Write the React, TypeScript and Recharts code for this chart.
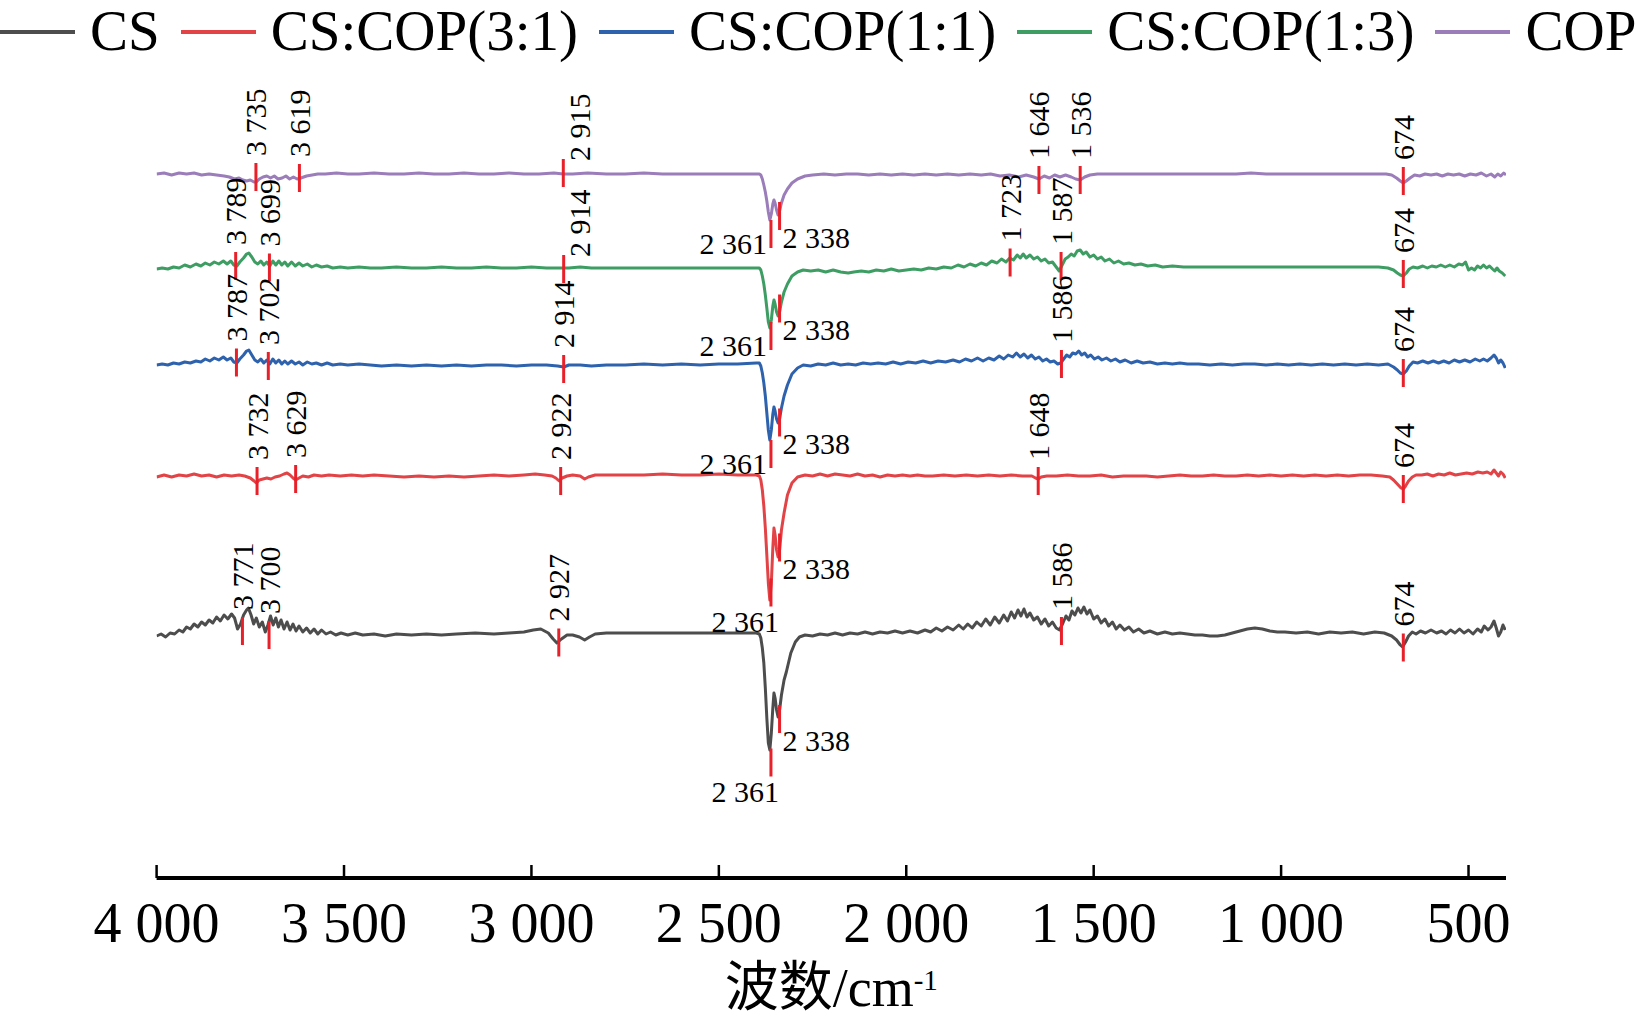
import React from 'react';
import { LineChart, Line, XAxis, YAxis, ReferenceDot } from 'recharts';

// FTIR spectra, stacked with an offset (transmittance, a.u.)
const seriesNames = ['CS', 'CS:COP(3:1)', 'CS:COP(1:1)', 'CS:COP(1:3)', 'COP'];
const seriesColors = ['#4d4d4d', '#e24346', '#2e62ad', '#3d9d63', '#9a7db9'];
const markColor = '#e8202a';
const wnTicks = [4000, 3500, 3000, 2500, 2000, 1500, 1000, 500];

const csSpectrum: [number, number][] = [
  [4000,24.2],[3988,24.4],[3976,24.1],[3964,24.5],[3952,24.4],[3940,24.8],[3930,24.6],[3920,25.1],[3910,24.9],[3900,25.4],[3890,25.1],[3880,25.6],[3870,25.3],[3860,25.8],[3850,25.5],[3840,26.1],[3830,25.7],[3820,26.3],[3810,25.9],[3800,26.4],[3792,26.0],[3784,24.9],[3776,25.4],[3768,26.3],[3760,26.8],[3755,27.0],[3748,26.3],[3741,25.4],[3734,26.0],[3726,25.1],[3718,25.6],[3710,24.6],[3703,25.3],[3696,26.2],[3689,25.3],[3682,26.0],[3675,25.1],[3668,25.8],[3660,24.9],[3652,25.6],[3644,24.8],[3636,25.4],[3628,24.7],[3620,25.2],[3610,24.6],[3600,25.0],[3590,24.5],[3580,24.9],[3570,24.4],[3560,24.8],[3548,24.4],[3536,24.6],[3522,24.3],[3508,24.5],[3490,24.3],[3470,24.5],[3450,24.3],[3420,24.4],[3390,24.2],[3360,24.4],[3320,24.3],[3280,24.4],[3240,24.3],[3200,24.4],[3150,24.5],[3100,24.4],[3060,24.5],[3020,24.6],[2995,24.8],[2975,24.9],[2955,24.5],[2942,23.9],[2932,23.5],[2920,23.9],[2905,24.3],[2890,24.3],[2872,24.1],[2858,23.8],[2845,24.1],[2830,24.4],[2800,24.5],[2750,24.5],[2700,24.5],[2650,24.5],[2600,24.5],[2550,24.5],[2500,24.5],[2450,24.5],[2400,24.5],
  [2392,24.4],[2388,24.0],[2384,23.0],[2380,21.5],[2376,19.0],[2372,16.0],[2368,13.5],[2364,12.8],[2360,14.5],[2356,17.0],[2353,18.5],[2350,18.0],[2346,16.8],[2342,16.1],[2338,16.8],[2333,18.3],[2326,19.8],[2320,20.6],[2308,22.5],[2296,23.6],[2285,24.1],[2270,24.3],
  [2250,24.2],[2230,24.4],[2210,24.3],[2190,24.5],[2170,24.3],[2150,24.5],[2130,24.4],[2110,24.6],[2090,24.4],[2070,24.6],[2050,24.5],[2030,24.7],[2010,24.5],[1990,24.7],[1970,24.5],[1950,24.8],[1935,24.6],[1920,25.0],[1905,24.7],[1890,25.1],[1875,24.8],[1860,25.3],[1848,24.9],[1836,25.4],[1824,25.0],[1812,25.6],[1800,25.2],[1788,25.9],[1776,25.3],[1764,26.1],[1752,25.5],[1740,26.3],[1730,25.7],[1720,26.6],[1711,26.0],[1702,26.8],[1694,26.2],[1686,26.9],[1678,26.1],[1670,26.5],[1660,25.8],[1650,26.1],[1640,25.4],[1630,25.9],[1620,25.2],[1610,25.6],[1600,25.0],[1591,24.8],[1582,25.5],[1574,26.2],[1566,25.8],[1558,26.7],[1550,26.3],[1542,27.0],[1534,26.5],[1526,27.1],[1518,26.4],[1510,26.8],[1500,25.9],[1490,26.2],[1480,25.5],[1470,25.9],[1460,25.2],[1450,25.6],[1440,24.9],[1430,25.3],[1418,24.8],[1406,25.1],[1394,24.6],[1380,24.9],[1366,24.5],[1350,24.7],[1330,24.4],[1310,24.6],[1290,24.4],[1270,24.5],[1250,24.4],[1230,24.3],[1210,24.3],[1190,24.2],[1170,24.2],[1150,24.3],[1130,24.5],[1110,24.7],[1090,24.9],[1070,25.0],[1050,24.9],[1030,24.7],[1010,24.6],[990,24.6],[960,24.5],[930,24.6],[900,24.4],[870,24.6],[840,24.5],[810,24.6],[780,24.4],[750,24.6],[725,24.5],[705,24.2],[692,23.8],[682,23.3],[676,23.1],[668,23.6],[660,24.2],[650,24.6],[640,24.4],[628,24.7],[615,24.5],[600,24.8],[585,24.5],[572,24.7],[560,24.4],[548,24.8],[536,24.5],[524,24.9],[512,24.5],[500,24.8],[488,24.4],[476,24.9],[466,24.6],[458,25.2],[448,24.8],[440,25.1],[432,25.7],[426,25.0],[420,24.2],[414,24.6],[408,25.3],[402,24.8],
];

const cop31Spectrum: [number, number][] = [
  [4000,40.1],[3980,40.3],[3960,40.1],[3940,40.3],[3920,40.2],[3900,40.4],[3880,40.2],[3860,40.3],[3840,40.1],[3820,40.3],[3800,40.2],[3780,40.3],[3765,40.2],[3750,40.0],[3740,39.7],[3734,39.5],[3726,39.8],[3716,39.9],[3706,40.0],[3695,39.9],[3684,40.1],[3672,40.2],[3660,40.4],[3652,40.5],[3644,40.3],[3636,40.0],[3629,39.8],[3620,40.0],[3610,40.2],[3595,40.1],[3580,40.3],[3560,40.2],[3540,40.3],[3510,40.2],[3480,40.3],[3450,40.2],[3420,40.3],[3380,40.2],[3340,40.1],[3300,40.2],[3260,40.1],[3220,40.2],[3180,40.1],[3140,40.2],[3100,40.3],[3060,40.2],[3020,40.3],[2990,40.4],[2965,40.3],[2945,40.2],[2935,40.0],[2926,39.7],[2918,40.0],[2905,40.2],[2890,40.3],[2870,40.2],[2858,39.9],[2848,40.1],[2830,40.3],[2800,40.3],[2750,40.3],[2700,40.3],[2650,40.4],[2600,40.3],[2550,40.3],[2500,40.4],[2450,40.3],[2400,40.3],
  [2392,40.2],[2388,39.8],[2384,38.8],[2380,37.2],[2376,35.0],[2372,32.3],[2368,29.5],[2364,27.8],[2360,29.5],[2356,33.0],[2353,35.0],[2350,34.3],[2346,32.8],[2342,32.1],[2338,32.8],[2333,34.8],[2326,36.5],[2317,38.3],[2305,39.5],[2290,40.1],[2270,40.3],
  [2250,40.2],[2230,40.4],[2210,40.2],[2190,40.4],[2170,40.3],[2150,40.2],[2130,40.4],[2110,40.2],[2090,40.3],[2070,40.1],[2050,40.3],[2030,40.2],[2010,40.3],[1990,40.2],[1970,40.3],[1950,40.2],[1930,40.2],[1900,40.3],[1870,40.2],[1840,40.3],[1810,40.2],[1780,40.3],[1750,40.2],[1720,40.3],[1690,40.2],[1665,40.2],[1655,40.0],[1648,39.9],[1640,40.1],[1625,40.2],[1600,40.2],[1570,40.3],[1540,40.2],[1510,40.2],[1480,40.3],[1450,40.1],[1420,40.2],[1390,40.2],[1360,40.2],[1330,40.1],[1300,40.2],[1270,40.3],[1240,40.2],[1210,40.2],[1180,40.3],[1150,40.2],[1120,40.2],[1090,40.3],[1060,40.2],[1030,40.3],[1000,40.2],[970,40.3],[940,40.2],[910,40.3],[880,40.2],[850,40.3],[820,40.2],[790,40.3],[760,40.3],[730,40.2],[710,40.1],[700,39.8],[690,39.4],[680,39.0],[674,38.9],[668,39.2],[660,39.7],[650,40.1],[640,40.3],[625,40.3],[610,40.4],[595,40.2],[580,40.4],[565,40.3],[550,40.5],[535,40.3],[520,40.4],[505,40.5],[490,40.4],[475,40.6],[462,40.5],[450,40.6],[440,40.4],[432,40.8],[426,40.5],[420,40.2],[414,40.6],[408,40.4],[402,40.0],
];

const cop11Spectrum: [number, number][] = [
  [4000,51.3],[3985,51.4],[3970,51.3],[3955,51.5],[3940,51.4],[3925,51.6],[3910,51.5],[3895,51.7],[3882,51.6],[3870,51.9],[3858,51.7],[3846,52.0],[3834,51.8],[3822,52.1],[3812,51.8],[3802,52.0],[3794,51.6],[3786,51.5],[3778,51.9],[3768,52.3],[3760,52.7],[3754,52.8],[3746,52.3],[3738,51.8],[3730,51.6],[3722,51.9],[3714,51.5],[3706,51.8],[3698,51.4],[3690,51.9],[3682,51.5],[3674,51.8],[3666,51.4],[3658,51.7],[3650,51.4],[3640,51.7],[3630,51.4],[3620,51.6],[3610,51.3],[3598,51.6],[3586,51.4],[3574,51.5],[3560,51.3],[3545,51.5],[3530,51.3],[3510,51.4],[3490,51.3],[3460,51.4],[3430,51.3],[3400,51.2],[3360,51.3],[3320,51.2],[3280,51.3],[3240,51.2],[3200,51.3],[3160,51.2],[3120,51.3],[3080,51.3],[3040,51.2],[3000,51.3],[2960,51.3],[2930,51.2],[2914,51.1],[2900,51.3],[2870,51.3],[2840,51.2],[2800,51.3],[2750,51.3],[2700,51.4],[2650,51.3],[2600,51.4],[2550,51.3],[2500,51.4],[2450,51.4],[2400,51.5],
  [2392,51.5],[2388,51.2],[2384,50.5],[2380,49.5],[2376,48.2],[2372,46.5],[2368,44.8],[2364,43.8],[2360,44.8],[2356,46.4],[2353,47.1],[2350,46.7],[2346,45.9],[2342,45.5],[2338,45.9],[2333,47.0],[2326,48.2],[2317,49.3],[2305,50.4],[2290,51.0],[2275,51.3],
  [2255,51.2],[2235,51.4],[2215,51.3],[2195,51.5],[2175,51.3],[2155,51.4],[2135,51.3],[2115,51.5],[2095,51.4],[2075,51.5],[2055,51.4],[2035,51.6],[2015,51.4],[1995,51.6],[1975,51.5],[1955,51.7],[1935,51.5],[1915,51.7],[1895,51.6],[1875,51.8],[1858,51.6],[1842,51.9],[1826,51.7],[1810,52.0],[1795,51.7],[1780,52.0],[1766,51.8],[1752,52.2],[1740,51.9],[1728,52.3],[1716,52.1],[1706,52.5],[1696,52.1],[1686,52.4],[1676,52.0],[1666,52.3],[1656,51.9],[1646,52.1],[1636,51.7],[1626,51.9],[1616,51.6],[1606,51.7],[1596,51.4],[1588,51.5],[1580,51.9],[1572,52.3],[1564,52.1],[1556,52.5],[1548,52.4],[1540,52.7],[1532,52.3],[1524,52.5],[1516,52.1],[1508,52.3],[1498,51.9],[1488,52.1],[1478,51.8],[1466,52.0],[1454,51.7],[1442,51.9],[1430,51.6],[1416,51.8],[1400,51.5],[1384,51.7],[1368,51.5],[1350,51.6],[1330,51.4],[1310,51.5],[1290,51.4],[1270,51.5],[1250,51.4],[1220,51.4],[1190,51.3],[1160,51.4],[1130,51.3],[1100,51.4],[1070,51.4],[1040,51.3],[1010,51.4],[980,51.3],[950,51.4],[920,51.3],[890,51.4],[860,51.3],[830,51.4],[800,51.3],[770,51.4],[740,51.3],[715,51.4],[700,51.1],[690,50.8],[682,50.5],[674,50.4],[666,50.7],[658,51.2],[648,51.6],[636,51.5],[622,51.7],[608,51.5],[594,51.7],[580,51.5],[566,51.7],[552,51.5],[538,51.8],[524,51.6],[510,51.8],[496,51.6],[482,51.9],[470,51.7],[460,51.9],[450,51.7],[440,52.0],[432,52.3],[426,52.0],[420,51.5],[414,51.8],[408,51.5],[402,51.0],
];

const cop13Spectrum: [number, number][] = [
  [4000,60.9],[3985,61.0],[3970,60.9],[3955,61.1],[3940,61.0],[3925,61.3],[3910,61.1],[3895,61.4],[3882,61.2],[3870,61.5],[3858,61.3],[3846,61.6],[3834,61.4],[3822,61.7],[3812,61.4],[3802,61.7],[3794,61.3],[3786,61.2],[3778,61.6],[3768,62.0],[3760,62.4],[3754,62.5],[3746,62.1],[3738,61.6],[3730,61.4],[3722,61.7],[3714,61.3],[3706,61.6],[3698,61.2],[3690,61.7],[3682,61.3],[3674,61.7],[3666,61.3],[3658,61.6],[3650,61.2],[3640,61.6],[3630,61.2],[3620,61.5],[3610,61.2],[3598,61.4],[3586,61.1],[3574,61.3],[3560,61.1],[3545,61.2],[3530,61.0],[3510,61.1],[3490,61.0],[3460,61.1],[3430,61.0],[3400,61.0],[3360,61.1],[3320,61.0],[3280,61.0],[3240,61.1],[3200,61.0],[3160,61.0],[3120,61.1],[3080,61.0],[3040,61.0],[3000,61.1],[2960,61.0],[2930,61.0],[2900,61.0],[2870,61.1],[2840,61.0],[2800,61.0],[2750,61.0],[2700,61.0],[2650,61.0],[2600,61.0],[2550,61.0],[2500,61.0],[2450,61.0],[2400,61.0],
  [2392,61.0],[2388,60.8],[2384,60.2],[2380,59.4],[2376,58.3],[2372,57.0],[2368,55.6],[2364,55.0],[2360,55.8],[2356,57.2],[2353,57.8],[2350,57.4],[2346,56.6],[2342,56.2],[2338,56.6],[2333,57.6],[2326,58.6],[2317,59.4],[2305,60.2],[2290,60.6],[2275,60.8],
  [2255,60.7],[2235,60.8],[2215,60.6],[2195,60.8],[2175,60.6],[2155,60.5],[2140,60.6],[2120,60.7],[2100,60.6],[2080,60.8],[2060,60.7],[2040,60.9],[2020,60.7],[2000,60.8],[1980,60.9],[1960,60.8],[1940,61.0],[1920,60.9],[1900,61.1],[1880,61.0],[1862,61.3],[1846,61.1],[1830,61.4],[1815,61.2],[1800,61.5],[1786,61.3],[1772,61.7],[1758,61.5],[1746,61.9],[1734,61.6],[1724,62.0],[1714,61.8],[1704,62.3],[1696,62.0],[1688,62.4],[1680,62.0],[1670,62.3],[1660,61.9],[1650,62.1],[1640,61.7],[1630,61.9],[1620,61.5],[1610,61.6],[1600,61.1],[1592,60.7],[1584,61.3],[1576,61.9],[1568,62.1],[1560,62.4],[1552,62.2],[1544,62.7],[1536,62.8],[1528,62.4],[1520,62.6],[1510,62.1],[1500,62.3],[1490,61.9],[1480,62.1],[1470,61.7],[1458,61.9],[1446,61.5],[1434,61.7],[1420,61.4],[1406,61.5],[1390,61.3],[1374,61.4],[1356,61.2],[1336,61.3],[1316,61.1],[1290,61.2],[1260,61.1],[1230,61.1],[1200,61.1],[1170,61.1],[1140,61.1],[1100,61.1],[1060,61.1],[1020,61.1],[980,61.1],[940,61.1],[900,61.1],[860,61.1],[820,61.1],[780,61.1],[740,61.1],[715,61.0],[700,60.8],[690,60.5],[682,60.3],[674,60.2],[666,60.5],[658,60.9],[648,61.1],[636,61.0],[622,61.2],[610,61.0],[598,61.2],[586,61.1],[574,61.3],[562,61.1],[550,61.3],[538,61.1],[526,61.4],[516,61.3],[508,61.6],[500,60.8],[492,61.0],[484,60.8],[476,61.2],[468,61.0],[460,61.3],[452,61.0],[444,61.2],[436,60.9],[430,60.7],[424,61.0],[418,60.7],[410,60.5],[402,60.2],
];

const copSpectrum: [number, number][] = [
  [4000,70.4],[3980,70.5],[3960,70.3],[3940,70.5],[3920,70.4],[3900,70.5],[3880,70.3],[3860,70.4],[3840,70.3],[3820,70.2],[3806,70.1],[3792,69.9],[3780,70.0],[3770,69.8],[3760,69.7],[3750,69.8],[3740,69.6],[3734,69.6],[3726,69.9],[3716,70.1],[3706,70.2],[3696,70.0],[3686,70.2],[3676,69.9],[3665,70.0],[3655,70.2],[3645,69.9],[3635,70.1],[3625,69.9],[3615,70.0],[3600,70.2],[3585,70.3],[3570,70.4],[3550,70.4],[3520,70.5],[3490,70.4],[3460,70.4],[3420,70.5],[3380,70.4],[3340,70.4],[3300,70.5],[3260,70.4],[3220,70.4],[3180,70.5],[3140,70.4],[3100,70.4],[3060,70.5],[3020,70.4],[2980,70.4],[2940,70.5],[2915,70.4],[2890,70.4],[2850,70.5],[2800,70.4],[2750,70.4],[2700,70.5],[2650,70.4],[2600,70.4],[2550,70.4],[2500,70.4],[2450,70.4],[2400,70.4],
  [2392,70.4],[2388,70.3],[2384,69.9],[2380,69.3],[2376,68.6],[2372,67.7],[2368,66.6],[2364,65.8],[2360,66.4],[2356,67.4],[2353,67.8],[2350,67.5],[2346,66.8],[2342,66.3],[2338,66.7],[2333,67.5],[2326,68.3],[2317,68.9],[2305,69.5],[2290,69.9],[2270,70.2],
  [2250,70.3],[2220,70.4],[2190,70.3],[2160,70.4],[2130,70.4],[2100,70.3],[2070,70.4],[2040,70.3],[2010,70.4],[1980,70.3],[1950,70.4],[1920,70.3],[1890,70.4],[1860,70.3],[1830,70.4],[1800,70.3],[1775,70.4],[1750,70.2],[1725,70.3],[1700,70.1],[1680,70.3],[1660,70.1],[1646,69.9],[1632,70.2],[1618,70.0],[1604,70.3],[1590,70.1],[1575,70.3],[1560,70.1],[1548,69.9],[1536,69.8],[1524,70.1],[1510,70.3],[1490,70.4],[1460,70.4],[1430,70.4],[1400,70.4],[1360,70.4],[1320,70.4],[1280,70.4],[1240,70.4],[1200,70.4],[1160,70.4],[1120,70.4],[1080,70.5],[1040,70.4],[1000,70.4],[960,70.4],[920,70.4],[880,70.4],[840,70.4],[800,70.4],[760,70.4],[720,70.4],[705,70.3],[692,70.0],[682,69.7],[674,69.5],[666,69.7],[656,70.0],[644,70.3],[630,70.2],[616,70.4],[600,70.3],[585,70.4],[570,70.2],[555,70.4],[540,70.3],[525,70.4],[510,70.2],[495,70.4],[480,70.3],[466,70.5],[452,70.2],[440,70.4],[430,70.1],[422,70.4],[414,70.2],[406,70.5],[400,70.3],
];

const spectra = [csSpectrum, cop31Spectrum, cop11Spectrum, cop13Spectrum, copSpectrum];

// peak marks: series index, wavenumber, marker centre, label, where the label sits
type Side = 'up' | 'upR' | 'left' | 'right' | 'below';
const peakMarks: { s: number; wn: number; at: number; text: string; side: Side }[] = [
  { s: 4, wn: 3735, at: 70.1, text: '3 735', side: 'up' },
  { s: 4, wn: 3619, at: 70.0, text: '3 619', side: 'up' },
  { s: 4, wn: 2915, at: 70.5, text: '2 915', side: 'upR' },
  { s: 4, wn: 2361, at: 64.4, text: '2 361', side: 'left' },
  { s: 4, wn: 2338, at: 66.2, text: '2 338', side: 'right' },
  { s: 4, wn: 1646, at: 69.8, text: '1 646', side: 'up' },
  { s: 4, wn: 1536, at: 69.8, text: '1 536', side: 'up' },
  { s: 4, wn: 674, at: 69.7, text: '674', side: 'up' },
  { s: 3, wn: 3789, at: 61.2, text: '3 789', side: 'up' },
  { s: 3, wn: 3699, at: 61.05, text: '3 699', side: 'up' },
  { s: 3, wn: 2914, at: 60.9, text: '2 914', side: 'upR' },
  { s: 3, wn: 2361, at: 54.2, text: '2 361', side: 'left' },
  { s: 3, wn: 2338, at: 56.95, text: '2 338', side: 'right' },
  { s: 3, wn: 1723, at: 61.55, text: '1 723', side: 'up' },
  { s: 3, wn: 1587, at: 61.2, text: '1 587', side: 'up' },
  { s: 3, wn: 674, at: 60.4, text: '674', side: 'up' },
  { s: 2, wn: 3787, at: 51.55, text: '3 787', side: 'up' },
  { s: 2, wn: 3702, at: 51.2, text: '3 702', side: 'up' },
  { s: 2, wn: 2914, at: 50.9, text: '2 914', side: 'up' },
  { s: 2, wn: 2361, at: 42.4, text: '2 361', side: 'left' },
  { s: 2, wn: 2338, at: 45.55, text: '2 338', side: 'right' },
  { s: 2, wn: 1586, at: 51.4, text: '1 586', side: 'up' },
  { s: 2, wn: 674, at: 50.5, text: '674', side: 'up' },
  { s: 1, wn: 3732, at: 39.7, text: '3 732', side: 'up' },
  { s: 1, wn: 3629, at: 39.9, text: '3 629', side: 'up' },
  { s: 1, wn: 2922, at: 39.7, text: '2 922', side: 'up' },
  { s: 1, wn: 2361, at: 28.55, text: '2 361', side: 'below' },
  { s: 1, wn: 2338, at: 33.05, text: '2 338', side: 'right' },
  { s: 1, wn: 1648, at: 39.7, text: '1 648', side: 'up' },
  { s: 1, wn: 674, at: 38.9, text: '674', side: 'up' },
  { s: 0, wn: 3771, at: 24.7, text: '3 771', side: 'up' },
  { s: 0, wn: 3700, at: 24.3, text: '3 700', side: 'up' },
  { s: 0, wn: 2927, at: 23.55, text: '2 927', side: 'up' },
  { s: 0, wn: 2361, at: 11.55, text: '2 361', side: 'below' },
  { s: 0, wn: 2338, at: 15.9, text: '2 338', side: 'right' },
  { s: 0, wn: 1586, at: 24.7, text: '1 586', side: 'up' },
  { s: 0, wn: 674, at: 23.05, text: '674', side: 'up' },
];

const SERIF = '"Liberation Serif", "Times New Roman", serif';

const fmtWn = (v: number) =>
  v >= 1000 ? `${Math.floor(v / 1000)} ${String(v % 1000).padStart(3, '0')}` : String(v);

const toRows = (pts: [number, number][]) => pts.map(([wn, t]) => ({ wn, t }));

const noteStyle: React.CSSProperties = { fontFamily: SERIF, fontSize: 30, fill: '#000' };

function PeakMark(props: any) {
  const { cx, cy, text, side } = props;
  if (cx == null || cy == null) return null;
  const top = cy - 14;
  const bottom = cy + 14;
  let label: React.ReactNode = null;
  if (side === 'up' || side === 'upR') {
    const lx = side === 'upR' ? cx + 16 : cx;
    const ly = side === 'upR' ? cy - 12 : top - 7;
    label = (
      <text x={lx} y={ly} transform={`rotate(-90 ${lx} ${ly})`} textAnchor="start" dominantBaseline="central" fontFamily={SERIF} style={noteStyle}>
        {text}
      </text>
    );
  } else if (side === 'left') {
    label = <text x={cx - 4} y={bottom - 5} textAnchor="end" dominantBaseline="central" fontFamily={SERIF} style={noteStyle}>{text}</text>;
  } else if (side === 'right') {
    label = <text x={cx + 3} y={bottom + 7} textAnchor="start" dominantBaseline="central" fontFamily={SERIF} style={noteStyle}>{text}</text>;
  } else {
    label = <text x={cx + 8} y={bottom + 15} textAnchor="end" dominantBaseline="central" fontFamily={SERIF} style={noteStyle}>{text}</text>;
  }
  return (
    <g>
      <line x1={cx} x2={cx} y1={top} y2={bottom} stroke={markColor} strokeWidth={3} />
      {label}
    </g>
  );
}

function AxisTitle(props: any) {
  const vb = props.viewBox || { x: 0, y: 0, width: 0, height: 0 };
  const x = vb.x + vb.width / 2;
  const y = vb.y + 128;
  return (
    <text x={x} y={y} textAnchor="middle" style={{ fontFamily: SERIF, fontSize: 54, fill: '#000' }}>
      <tspan style={{ fontFamily: '"Noto Sans CJK SC", sans-serif' }}>波数</tspan>
      <tspan>/cm</tspan>
      <tspan dy={-16} style={{ fontSize: 29 }}>-1</tspan>
    </text>
  );
}

function TopLegend() {
  return (
    <div style={{ position: 'absolute', top: 9, left: 0, display: 'flex', whiteSpace: 'nowrap' }}>
      {seriesNames.map((name, i) => (
        <div key={name} style={{ display: 'flex', alignItems: 'center', height: 44, marginRight: 21 }}>
          <div style={{ width: 75, height: 4, background: seriesColors[i], marginRight: 15, position: 'relative', top: 1 }} />
          <span style={{ fontFamily: SERIF, fontSize: 57, lineHeight: '44px', color: '#000' }}>{name}</span>
        </div>
      ))}
    </div>
  );
}

export default function App() {
  return (
    <div style={{ position: 'absolute', left: 0, top: 0, width: 1636, height: 1021, overflow: 'hidden', background: '#fff' }}>
      <LineChart width={1636} height={1021} margin={{ top: 97, right: 130, bottom: 0, left: 156.6 }}>
        <XAxis
          dataKey="wn"
          type="number"
          domain={[400, 4000]}
          reversed
          allowDataOverflow
          ticks={wnTicks}
          tickFormatter={fmtWn}
          interval={0}
          height={143}
          tickSize={-13}
          tickMargin={37}
          axisLine={{ stroke: '#000', strokeWidth: 4 }}
          tickLine={{ stroke: '#000', strokeWidth: 2.5 }}
          tick={{ fontFamily: SERIF, fontSize: 56, fill: '#000' }}
          label={<AxisTitle />}
        />
        <YAxis
          type="number"
          domain={[0, 78.1]}
          allowDataOverflow
          width={0}
          tick={false}
          tickLine={false}
          axisLine={{ stroke: '#000', strokeWidth: 3.5 }}
        />
        {spectra.map((pts, i) => (
          <Line
            key={seriesNames[i]}
            data={toRows(pts)}
            dataKey="t"
            name={seriesNames[i]}
            type="linear"
            stroke={seriesColors[i]}
            strokeWidth={3}
            strokeLinejoin="round"
            dot={false}
            activeDot={false}
            isAnimationActive={false}
          />
        ))}
        {peakMarks.map((m, i) => (
          <ReferenceDot
            key={`pk-${i}`}
            x={m.wn}
            y={m.at}
            ifOverflow="visible"
            shape={(p: any) => <PeakMark {...p} text={m.text} side={m.side} />}
          />
        ))}
      </LineChart>
      <TopLegend />
    </div>
  );
}
